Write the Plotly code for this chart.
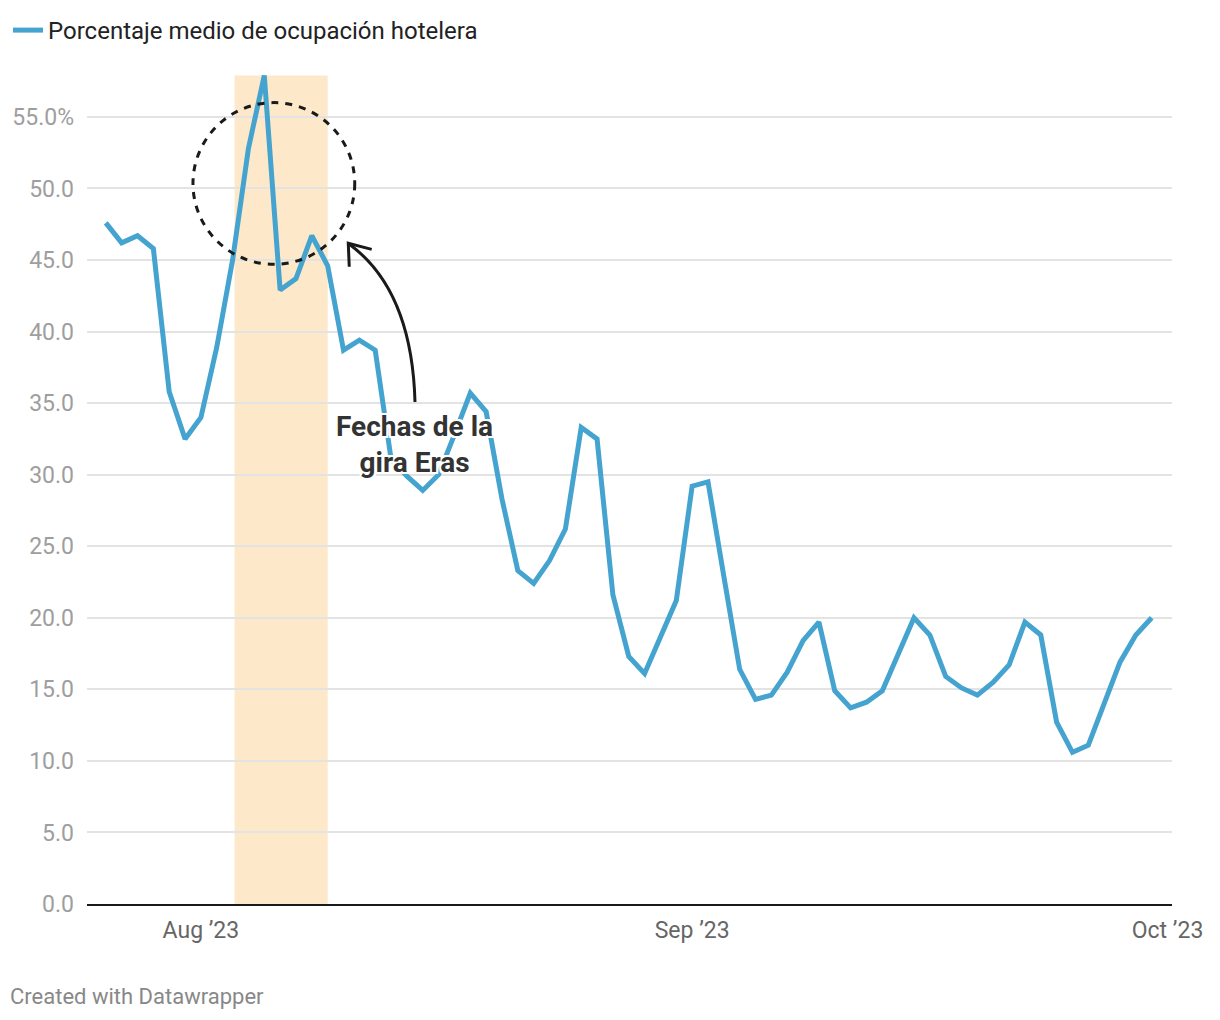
import plotly.graph_objects as go
import pandas as pd

# ---- data ----
dates = pd.date_range("2023-07-26", "2023-09-30", freq="D").strftime("%Y-%m-%d").tolist()
occupancy = [
    47.6, 46.2, 46.7, 45.8, 35.8, 32.5,                      # Jul 26-31
    34.0, 38.9, 45.0, 52.8, 57.9, 42.9, 43.7, 46.7, 44.6, 38.7,  # Aug 1-10
    39.4, 38.7, 31.1, 29.9, 28.9, 30.0, 32.8, 35.7, 34.4, 28.3,  # Aug 11-20
    23.3, 22.4, 24.0, 26.2, 33.3, 32.5, 21.6, 17.3, 16.1, 18.7, 21.2,  # Aug 21-31
    29.2, 29.5, 22.9, 16.4, 14.3, 14.6, 16.2, 18.4, 19.7, 14.9,  # Sep 1-10
    13.7, 14.1, 14.9, 17.5, 20.0, 18.8, 15.9, 15.1, 14.6, 15.5,  # Sep 11-20
    16.7, 19.7, 18.8, 12.7, 10.6, 11.1, 14.1, 16.9, 18.8, 20.0,  # Sep 21-30
]
series_name = "Porcentaje medio de ocupación hotelera"
y_tick_values = [0, 5, 10, 15, 20, 25, 30, 35, 40, 45, 50, 55]
y_tick_labels = ["0.0", "5.0", "10.0", "15.0", "20.0", "25.0", "30.0", "35.0",
                 "40.0", "45.0", "50.0", "55.0%"]
x_tick_values = ["2023-08-01", "2023-09-01", "2023-10-01"]
x_tick_labels = ["Aug ’23", "Sep ’23", "Oct ’23"]
tour_start = "2023-08-03 03:00"
tour_end = "2023-08-09"
annotation_text = "Fechas de la<br>gira Eras"
credit_text = "Created with Datawrapper"

FONT = "Roboto"
LINE_COLOR = "#45a3d0"

fig = go.Figure()
fig.add_trace(go.Scatter(
    x=dates, y=occupancy, mode="lines", name=series_name,
    line=dict(color=LINE_COLOR, width=5),
    showlegend=True, cliponaxis=False,
))

# highlighted tour band
fig.add_shape(type="rect", xref="x", yref="y",
              x0=tour_start, x1=tour_end, y0=0, y1=max(occupancy),
              fillcolor="#fde9c9", line=dict(width=0), layer="below")

# dotted circle
fig.add_shape(type="circle", xref="x", yref="y",
              x0="2023-07-31 12:00", x1="2023-08-10 17:00", y0=44.7, y1=56.0,
              line=dict(color="#1a1a1a", width=3, dash="7px,7px"), layer="above")

# curved arrow (paper coords)
fig.add_shape(type="path", xref="paper", yref="paper",
              path="M 0.3023 0.6048 Q 0.2995 0.7398 0.2415 0.7952",
              line=dict(color="#1a1a1a", width=3), layer="above")
fig.add_shape(type="path", xref="paper", yref="paper",
              path="M 0.2624 0.7887 L 0.2408 0.7960 L 0.2417 0.7678",
              line=dict(color="#1a1a1a", width=3), layer="above")

fig.add_annotation(
    x="2023-08-14 12:00", y=32.1, xref="x", yref="y",
    text=annotation_text, showarrow=False, align="center",
    font=dict(family=FONT, size=28, color="#333333", weight="bold",
              shadow="white 2px 0px 0px, white -2px 0px 0px, white 0px 2px 0px, white 0px -2px 0px, white 2px 2px 0px, white -2px -2px 0px, white 2px -2px 0px, white -2px 2px 0px"),
)

fig.add_annotation(
    x=-0.0728, y=-0.112, xref="paper", yref="paper",
    text=credit_text, showarrow=False, xanchor="left", yanchor="middle",
    font=dict(family=FONT, size=22, color="#888888"),
)

fig.update_layout(
    width=1220, height=1020,
    margin=dict(l=79, r=56, t=66, b=124, autoexpand=False),
    paper_bgcolor="white", plot_bgcolor="white",
    font=dict(family=FONT),
    showlegend=True,
    legend=dict(orientation="h", xref="container", yref="container",
                x=0.0, y=1.0, xanchor="left", yanchor="top",
                font=dict(family=FONT, size=24, color="#222222"),
                bgcolor="rgba(0,0,0,0)"),
    xaxis=dict(
        type="date", automargin=False,
        range=["2023-07-24 19:30", "2023-10-01 06:45"],
        tickvals=x_tick_values, ticktext=x_tick_labels,
        showgrid=False, zeroline=False,
        showline=True, linecolor="#1a1a1a", linewidth=2,
        ticks="", ticklabelstandoff=4,
        tickfont=dict(family=FONT, size=23, color="#666666"),
    ),
    yaxis=dict(
        range=[0, 58], automargin=False,
        tickvals=y_tick_values, ticktext=y_tick_labels,
        showgrid=True, gridcolor="#e3e3e3", gridwidth=2,
        zeroline=False, showline=False,
        ticks="", ticklabelstandoff=12,
        tickfont=dict(family=FONT, size=23, color="#9e9e9e"),
    ),
)

fig.write_html("out.html")
